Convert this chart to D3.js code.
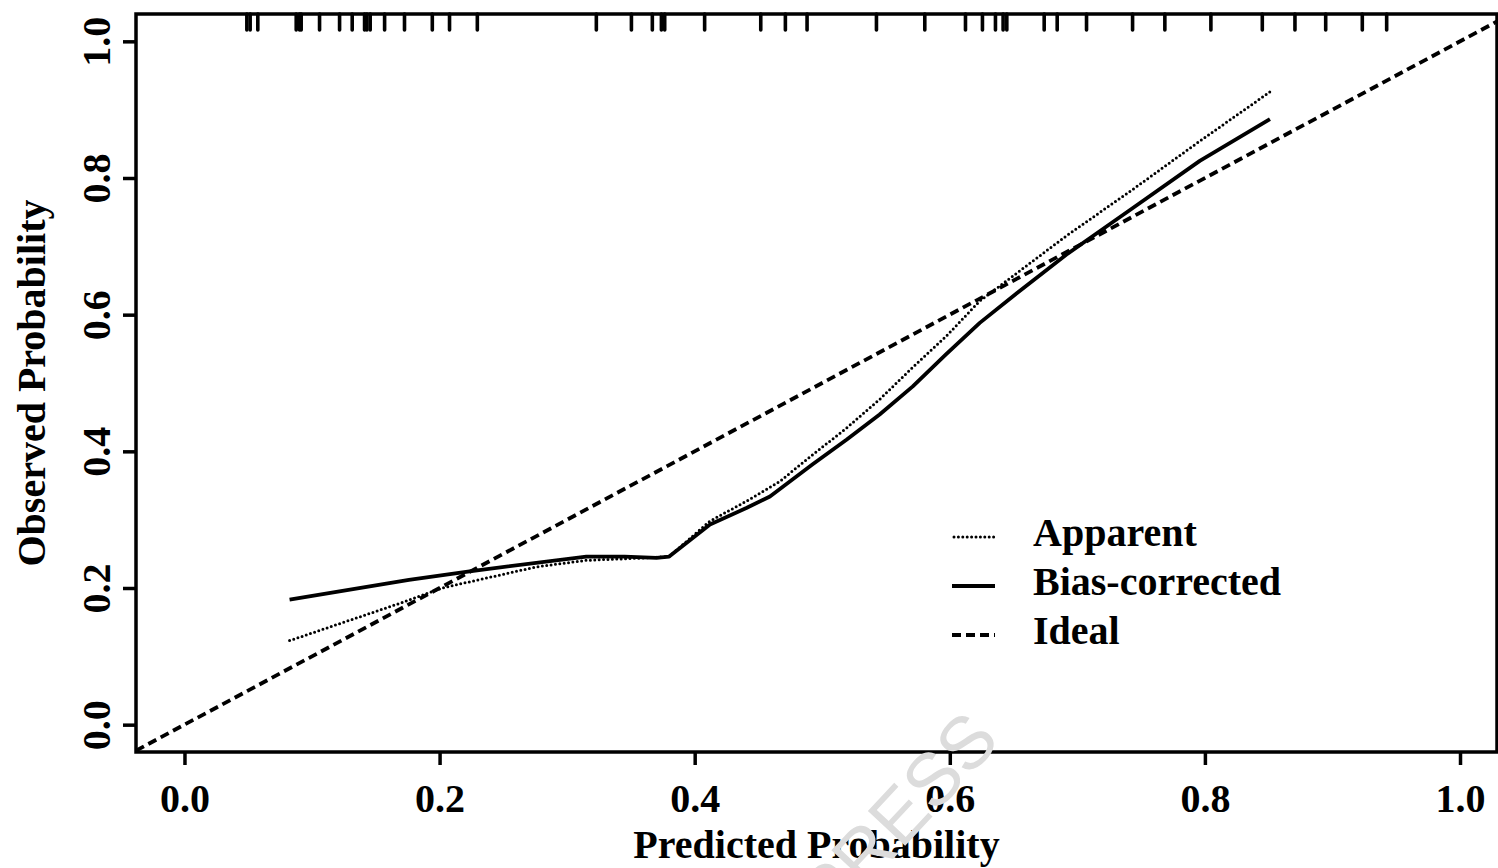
<!DOCTYPE html>
<html>
<head>
<meta charset="utf-8">
<script src="https://cdn.jsdelivr.net/npm/d3@7"></script>
<style>
  body { margin: 0; background: #fff; }
  text { font-family: "Liberation Serif", "Times New Roman", serif; font-weight: bold; fill: #000; }
</style>
</head>
<body>
<div id="chart"></div>
<script>
// calibration curve values
const apparentX = [0.0824, 0.171, 0.202, 0.276, 0.315, 0.367, 0.380, 0.412, 0.4405, 0.4667, 0.4925, 0.519, 0.545, 0.571, 0.597, 0.6235, 0.6915, 0.744, 0.796, 0.851];
const apparentY = [0.123, 0.179, 0.200, 0.231, 0.2405, 0.2445, 0.246, 0.298, 0.327, 0.356, 0.395, 0.434, 0.476, 0.523, 0.568, 0.620, 0.7155, 0.784, 0.854, 0.926];

const biasX = [0.0824, 0.176, 0.2235, 0.315, 0.345, 0.370, 0.380, 0.412, 0.4405, 0.459, 0.4925, 0.519, 0.545, 0.571, 0.597, 0.6235, 0.653, 0.6915, 0.7435, 0.796, 0.851];
const biasY = [0.183, 0.212, 0.2245, 0.246, 0.246, 0.244, 0.246, 0.293, 0.317, 0.334, 0.381, 0.417, 0.454, 0.495, 0.542, 0.588, 0.632, 0.688, 0.756, 0.825, 0.886];

// rug of predicted probabilities along the top
const rugX = [0.0489, 0.0515, 0.0575, 0.0876, 0.0902, 0.0915, 0.1059, 0.1216, 0.1315, 0.1412, 0.143, 0.1456,
  0.1569, 0.1725, 0.1943, 0.2078, 0.2296, 0.3229, 0.3504, 0.3668, 0.3739, 0.3765, 0.4078, 0.4518, 0.4711,
  0.4881, 0.5425, 0.5804, 0.6123, 0.6256, 0.6358, 0.6418, 0.6447, 0.674, 0.6842, 0.7072, 0.7433, 0.7686,
  0.8047, 0.845, 0.8706, 0.8947, 0.9234, 0.9425];

const tickVals = [0, 0.2, 0.4, 0.6, 0.8, 1.0];
const legendLabels = ["Apparent", "Bias-corrected", "Ideal"];

const W = 1498, H = 868;
const box = {left: 136, right: 1497, top: 14, bottom: 752};

const svg = d3.select("#chart").append("svg")
  .attr("width", W).attr("height", H);

const x = d3.scaleLinear().domain([-0.038, 1.029]).range([box.left, box.right]);
const y = d3.scaleLinear().domain([-0.04, 1.04]).range([box.bottom, box.top]);

const styles = {
  Apparent: {width: 3, dash: "0 4.4", cap: "round"},
  "Bias-corrected": {width: 3.8, dash: null, cap: "butt"},
  Ideal: {width: 3.8, dash: "9 5", cap: "butt"}
};

// ideal diagonal
svg.append("path")
  .datum([x.domain()[0], x.domain()[1]])
  .attr("d", d3.line().x(d => x(d)).y(d => y(d)))
  .attr("fill", "none").attr("stroke", "#000")
  .attr("stroke-width", styles.Ideal.width)
  .attr("stroke-dasharray", styles.Ideal.dash);

const line = d3.line().x(d => x(d[0])).y(d => y(d[1]));

svg.append("path")
  .datum(d3.zip(apparentX, apparentY))
  .attr("d", line)
  .attr("fill", "none").attr("stroke", "#000")
  .attr("stroke-width", styles.Apparent.width)
  .attr("stroke-linecap", "round")
  .attr("stroke-dasharray", styles.Apparent.dash);

svg.append("path")
  .datum(d3.zip(biasX, biasY))
  .attr("d", line)
  .attr("fill", "none").attr("stroke", "#000")
  .attr("stroke-linejoin", "round")
  .attr("stroke-width", styles["Bias-corrected"].width);

// rug
svg.append("g").selectAll("line")
  .data(rugX)
  .join("line")
  .attr("x1", d => x(d)).attr("x2", d => x(d))
  .attr("y1", box.top).attr("y2", box.top + 16)
  .attr("stroke", "#000").attr("stroke-width", 3.6)
  .attr("stroke-linecap", "round");

// frame
svg.append("rect")
  .attr("x", box.left).attr("y", box.top)
  .attr("width", box.right - box.left).attr("height", box.bottom - box.top)
  .attr("fill", "none").attr("stroke", "#000").attr("stroke-width", 3.5);

// x axis
const xAxis = svg.append("g")
  .attr("transform", `translate(0,${box.bottom})`)
  .call(d3.axisBottom(x).tickValues(tickVals).tickFormat(d3.format(".1f")).tickSize(13).tickPadding(19));
xAxis.select(".domain").remove();
xAxis.selectAll(".tick line").attr("stroke-width", 3.5);
xAxis.selectAll(".tick text")
  .attr("font-size", 40)
  .attr("font-family", null);

// y axis
const yAxis = svg.append("g")
  .attr("transform", `translate(${box.left},0)`)
  .call(d3.axisLeft(y).tickValues(tickVals).tickFormat(d3.format(".1f")).tickSize(13));
yAxis.select(".domain").remove();
yAxis.selectAll(".tick line").attr("stroke-width", 3.5);
yAxis.selectAll(".tick text")
  .attr("font-size", 40)
  .attr("font-family", null)
  .attr("text-anchor", "middle")
  .attr("x", 0).attr("dy", 0)
  .attr("transform", "translate(-26,0) rotate(-90)");

// axis titles
svg.append("text")
  .attr("x", (box.left + box.right) / 2).attr("y", 858)
  .attr("text-anchor", "middle").attr("font-size", 40)
  .text("Predicted Probability");

svg.append("text")
  .attr("transform", `translate(45,${(box.top + box.bottom) / 2}) rotate(-90)`)
  .attr("text-anchor", "middle").attr("font-size", 40)
  .text("Observed Probability");

// legend
const legend = svg.append("g").attr("transform", "translate(952,0)");
legendLabels.forEach((lab, i) => {
  const yy = 537 + i * 49;
  legend.append("line")
    .attr("x1", lab === "Apparent" ? 2 : 0).attr("x2", 43).attr("y1", yy).attr("y2", yy)
    .attr("stroke", "#000")
    .attr("stroke-width", styles[lab].width)
    .attr("stroke-linecap", styles[lab].cap)
    .attr("stroke-dasharray", styles[lab].dash);
  legend.append("text")
    .attr("x", 81).attr("y", yy + 9)
    .attr("font-size", 40)
    .text(lab);
});

// watermark
svg.append("text")
  .attr("transform", "translate(1002,742) rotate(-47)")
  .attr("text-anchor", "end")
  .style("font-family", "'Liberation Sans', Arial, sans-serif")
  .style("font-weight", "normal")
  .style("fill", "#dcdcdc")
  .attr("font-size", 74)
  .text("PRESS");
</script>
</body>
</html>
